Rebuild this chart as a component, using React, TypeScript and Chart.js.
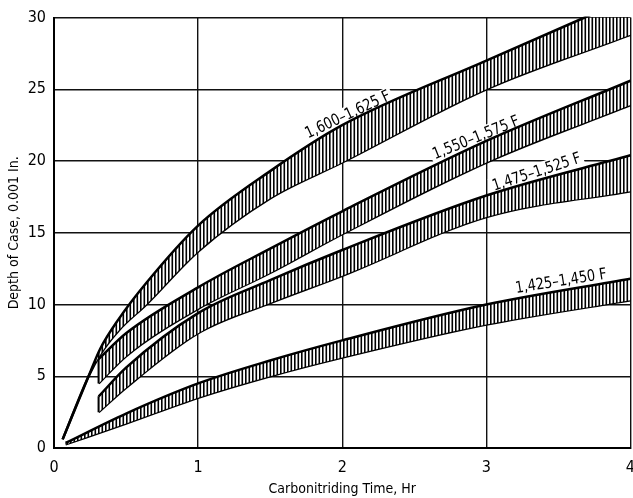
import React, { useEffect, useRef } from "react";
import { Chart, registerables } from "chart.js";

Chart.register(...registerables);

// ---- data ----
const xTickValues = [0, 1, 2, 3, 4];
const yTickValues = [0, 5, 10, 15, 20, 25, 30];

const bandNames = ["1,600–1,625 F", "1,550–1,575 F", "1,475–1,525 F", "1,425–1,450 F"];

const band1600Time = [0.06, 0.24, 0.32, 0.45, 0.64, 1, 1.5, 2, 3, 4];
const band1600Upper = [0.6, 5.0, 6.9, 9.0, 11.5, 15.5, 19.3, 22.5, 27.0, 31.4];
const band1600Lower = [0.6, 5.0, 6.5, 8.2, 10.0, 13.7, 17.4, 19.9, 25.0, 28.8];

const band1550Time = [0.31, 0.5, 1, 1.5, 2, 3, 4];
const band1550Upper = [6.2, 8.0, 11.2, 13.9, 16.5, 21.4, 25.6];
const band1550Lower = [4.5, 6.4, 9.7, 12.2, 14.9, 19.9, 23.9];

const band1475Time = [0.31, 0.5, 1, 1.5, 2, 3, 4];
const band1475Upper = [3.6, 5.6, 9.4, 11.7, 13.8, 17.6, 20.4];
const band1475Lower = [2.5, 4.2, 8.0, 10.1, 12.0, 16.1, 17.9];

const band1425Time = [0.08, 0.5, 1, 1.5, 2, 3, 4];
const band1425Upper = [0.35, 2.4, 4.5, 6.1, 7.5, 10.0, 11.8];
const band1425Lower = [0.25, 1.7, 3.5, 5.0, 6.3, 8.6, 10.3];

// label anchors (data coordinates) and text angle (degrees)
const labelTime = [2.04, 2.93, 3.35, 3.52];
const labelDepth = [23.2, 21.6, 19.2, 11.6];
const labelAngle = [25, 22, 18, 9];

const FONT = "'Liberation Sans Narrow', 'DejaVu Sans Condensed', 'Arial Narrow', sans-serif";

type Band = { t: number[]; up: number[]; lo: number[]; cap: boolean };
const bands: Band[] = [
  { t: band1600Time, up: band1600Upper, lo: band1600Lower, cap: false },
  { t: band1550Time, up: band1550Upper, lo: band1550Lower, cap: true },
  { t: band1475Time, up: band1475Upper, lo: band1475Lower, cap: true },
  { t: band1425Time, up: band1425Upper, lo: band1425Lower, cap: false },
];

const labelPlugin = {
  id: "bandLabels",
  beforeDatasetsDraw(chart: any) {
    const { ctx, scales } = chart;
    const xs = scales.x;
    const ys = scales.y;
    ctx.save();
    ctx.font = `16px ${FONT}`;
    ctx.textAlign = "center";
    ctx.textBaseline = "middle";
    bandNames.forEach((name, i) => {
      const px = xs.getPixelForValue(labelTime[i]);
      const py = ys.getPixelForValue(labelDepth[i]);
      ctx.save();
      ctx.translate(px, py);
      ctx.rotate((-labelAngle[i] * Math.PI) / 180);
      ctx.scale(0.9, 1);
      const w = ctx.measureText(name).width;
      ctx.fillStyle = "#fff";
      ctx.fillRect(-w / 2 - 3, -9, w + 6, 18);
      ctx.fillStyle = "#000";
      ctx.fillText(name, 0, 0);
      ctx.restore();
    });
    ctx.restore();
  },
};

export default function App() {
  const ref = useRef<HTMLCanvasElement | null>(null);

  useEffect(() => {
    const canvas = ref.current;
    if (!canvas) return;
    const ctx = canvas.getContext("2d")!;

    const pc = document.createElement("canvas");
    pc.width = 7;
    pc.height = 8;
    const pctx = pc.getContext("2d")!;
    pctx.fillStyle = "#fff";
    pctx.fillRect(0, 0, 7, 8);
    pctx.fillStyle = "#000";
    pctx.fillRect(0, 0, 1.6, 8);
    pctx.fillRect(3.5, 0, 1.6, 8);
    const pattern = ctx.createPattern(pc, "repeat");

    const datasets: any[] = [];
    bands.forEach((b) => {
      datasets.push({
        data: b.t.map((x, i) => ({ x, y: b.up[i] })),
        borderColor: "#000",
        borderWidth: 2.5,
        pointRadius: 0,
        cubicInterpolationMode: "monotone",
        fill: "+1",
        backgroundColor: pattern,
        clip: 1,
      });
      datasets.push({
        data: b.t.map((x, i) => ({ x, y: b.lo[i] })),
        borderColor: "#000",
        borderWidth: 2.5,
        pointRadius: 0,
        cubicInterpolationMode: "monotone",
        fill: false,
        clip: 1,
      });
    });
    bands.forEach((b) => {
      if (!b.cap) return;
      datasets.push({
        data: [
          { x: b.t[0], y: b.lo[0] },
          { x: b.t[0], y: b.up[0] },
        ],
        borderColor: "#000",
        borderWidth: 2.2,
        pointRadius: 0,
        tension: 0,
        fill: false,
      });
    });

    const chart = new Chart(canvas, {
      type: "line",
      data: { datasets },
      options: {
        animation: false,
        responsive: false,
        devicePixelRatio: 1,
        layout: { padding: { top: 13, right: 13, left: 0, bottom: 0 } },
        plugins: {
          legend: { display: false },
          tooltip: { enabled: false },
        },
        scales: {
          x: {
            type: "linear",
            min: 0,
            max: 4,
            afterBuildTicks: (s: any) => {
              s.ticks = xTickValues.map((v) => ({ value: v }));
            },
            afterFit: (s: any) => {
              s.height = 50;
            },
            ticks: {
              color: "#000",
              font: { family: FONT, size: 16 },
              padding: 10,
              maxRotation: 0,
            },
            grid: { color: "#111", lineWidth: 1.4, drawTicks: false },
            border: { color: "#000", width: 2 },
            title: {
              display: true,
              text: "Carbonitriding Time, Hr",
              color: "#000",
              font: { family: FONT, size: 14 },
              padding: { top: 0, bottom: 0 },
            },
          },
          y: {
            type: "linear",
            min: 0,
            max: 30,
            afterBuildTicks: (s: any) => {
              s.ticks = yTickValues.map((v) => ({ value: v }));
            },
            afterFit: (s: any) => {
              s.width = 54;
            },
            ticks: {
              color: "#000",
              font: { family: FONT, size: 16 },
              padding: 8,
            },
            grid: { color: "#111", lineWidth: 1.4, drawTicks: false },
            border: { color: "#000", width: 2 },
            title: {
              display: true,
              text: "Depth of Case, 0.001 In.",
              color: "#000",
              font: { family: FONT, size: 14 },
              padding: { top: 6, bottom: 0 },
            },
          },
        },
      } as any,
      plugins: [labelPlugin],
    });

    return () => chart.destroy();
  }, []);

  return (
    <div
      style={{
        position: "fixed",
        left: 0,
        top: 0,
        width: 633,
        height: 498,
        overflow: "hidden",
        background: "#fff",
      }}
    >
      <canvas ref={ref} width={645} height={498} style={{ display: "block", width: 645, height: 498 }} />
    </div>
  );
}
